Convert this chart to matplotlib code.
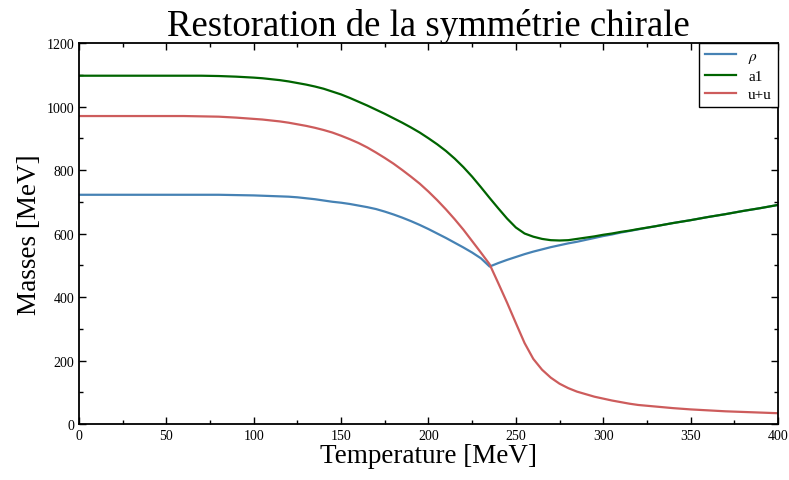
import matplotlib
matplotlib.use("Agg")
import matplotlib.pyplot as plt
from matplotlib.ticker import MultipleLocator

plt.rcParams['font.family'] = ['Liberation Serif', 'DejaVu Serif']
plt.rcParams['mathtext.fontset'] = 'stix'

temperature = [0, 10, 20, 30, 40, 50, 60, 70, 80, 90, 100,
               105, 110, 115, 120, 125, 130, 135, 140, 145, 150, 155, 160, 165, 170, 175,
               180, 185, 190, 195, 200, 205, 210, 215, 220, 225, 230, 235, 240, 245, 250,
               255, 260, 265, 270, 275, 280, 285, 290, 295, 300, 305, 310, 315, 320,
               330, 340, 350, 360, 370, 380, 390, 400]

rho = [722, 722, 722, 722, 722, 722, 722, 722, 722, 721, 720,
       719, 718, 717, 716, 714, 711, 708, 704, 700, 697, 693, 688, 683, 677, 669,
       660, 650, 639, 627, 614, 600, 586, 571, 556, 540, 522, 496, 507, 517, 526,
       535, 543, 550, 557, 563, 569, 574, 580, 586, 592, 597, 603, 608, 613,
       623, 633, 642, 652, 661, 671, 680, 690]

a1 = [1097, 1097, 1097, 1097, 1097, 1097, 1097, 1097, 1096, 1094, 1091,
      1089, 1086, 1083, 1079, 1074, 1069, 1063, 1056, 1047, 1038, 1027, 1015, 1003, 990, 977,
      963, 949, 934, 918, 900, 881, 860, 836, 809, 779, 746, 712, 679, 647, 619,
      600, 590, 583, 579, 578, 579, 583, 587, 591, 596, 600, 605, 609, 614,
      623, 633, 642, 652, 661, 671, 680, 690]

uu = [970, 970, 970, 970, 970, 970, 970, 969, 968, 965, 961,
      959, 956, 953, 949, 944, 939, 933, 926, 918, 908, 897, 885, 871, 855, 838,
      820, 800, 779, 757, 732, 705, 676, 645, 612, 576, 540, 503, 443, 382, 318,
      255, 205, 171, 146, 127, 113, 102, 94, 86, 80, 74, 69, 64, 60,
      55, 50, 46, 43, 40, 38, 36, 34]

series_labels = [r'$\rho$', 'a1', 'u+u']
series_colors = ['#4682b4', '#006400', '#cd5c5c']

fig = plt.figure(figsize=(7.89, 4.81), dpi=100)
ax = fig.add_axes([0.1001, 0.1164, 0.8859, 0.7921])

for vals, lab, col in zip([rho, a1, uu], series_labels, series_colors):
    ax.plot(temperature, vals, color=col, lw=1.6, label=lab)

ax.set_xlim(0, 400)
ax.set_ylim(0, 1200)
ax.xaxis.set_major_locator(MultipleLocator(50))
ax.xaxis.set_minor_locator(MultipleLocator(25))
ax.yaxis.set_major_locator(MultipleLocator(200))
ax.yaxis.set_minor_locator(MultipleLocator(100))
ax.tick_params(which='both', direction='in', top=True, right=True, labelsize=10)
ax.tick_params(which='major', length=5, width=1)
ax.tick_params(which='minor', length=3, width=1)
for s in ax.spines.values():
    s.set_linewidth(1.3)

ax.set_title('Restoration de la symmétrie chirale', fontsize=26.5, pad=1)
ax.set_xlabel('Temperature [MeV]', fontsize=19.5, labelpad=1)
ax.set_ylabel('Masses [MeV]', fontsize=19.5, labelpad=3)

leg = ax.legend(loc='upper right', fontsize=11, fancybox=False, framealpha=1,
                edgecolor='black', borderaxespad=0, handlelength=2.0,
                labelspacing=0.3)
leg.get_frame().set_linewidth(1.0)

fig.savefig('out.png', dpi=100)
